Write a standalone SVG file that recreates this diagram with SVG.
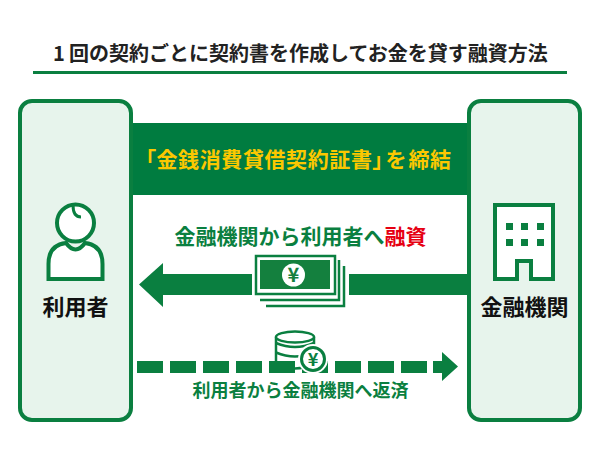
<svg xmlns="http://www.w3.org/2000/svg" width="600" height="450" viewBox="0 0 600 450">
<defs><style>
text{font-family:"Noto Sans CJK JP","Noto Sans",sans-serif;font-weight:700;text-anchor:middle}
.g{fill:#0a7f40}.ln{fill:none;stroke:#0a7f40}
.box{fill:#e7f4ec;stroke:#0a7f40;stroke-width:4}
.t{font-size:21px;fill:#0a7f40}.w{fill:#fff;stroke:#0a7f40;stroke-width:4}
.n{font-size:22px;fill:#111}
.y{font-size:21px;fill:#fcc800;font-feature-settings:"palt";letter-spacing:.6px}
</style></defs>
<rect width="600" height="450" fill="#fff"/>
<g id="title"><text x="59" y="61" font-size="20" fill="#222">1</text><text x="69" y="61" font-size="20" fill="#222" style="text-anchor:start">回の契約ごとに契約書を作成してお金を貸す融資方法</text>
<rect x="33" y="71" width="534" height="3" fill="#0a7f40"/></g>
<g id="contract"><rect x="131" y="123" width="339" height="72" fill="#007c40"/>
<text class="y" x="298.500" y="167">「金銭消費貸借契約証書」<tspan dx="2">を</tspan><tspan dx="2">締結</tspan></text></g>
<g id="user"><rect class="box" x="20" y="101" width="111" height="319" rx="12"/>
<path class="w" d="M48.500 279V264Q48.500 245 66 243Q75.500 256 85 243Q102.500 245 102.500 264V279Z"/>
<circle class="w" cx="75.500" cy="223" r="18.500"/>
<path class="ln" stroke-width="3" d="M73 205Q73 217 81 217"/>
<text class="n" x="75.500" y="315">利用者</text></g>
<g id="bank"><rect class="box" x="469" y="101" width="111" height="319" rx="12"/>
<path class="w" d="M495 279V205H553V279H531V261H517V279Z"/>
<g class="g"><rect x="506" y="223" width="7" height="7"/><rect x="521" y="223" width="7" height="7"/><rect x="537" y="223" width="7" height="7"/><rect x="506" y="239" width="7" height="7"/><rect x="521" y="239" width="7" height="7"/><rect x="537" y="239" width="7" height="7"/></g>
<text class="n" x="524.500" y="315">金融機関</text></g>
<g id="labels"><text class="t" x="300.500" y="244">金融機関から利用者へ<tspan fill="#e60012">融資</tspan></text>
<text x="300.500" y="397" font-size="18" fill="#0a7f40">利用者から金融機関へ返済</text></g>
<g id="cylinder">
<path fill="#fff" stroke="#0a7f40" stroke-width="2.500" d="M276 338V364Q295 373 314 364V338Z"/>
<ellipse cx="295" cy="337" rx="19" ry="5.500" fill="#fff" stroke="#0a7f40" stroke-width="2.500"/>
<path class="ln" stroke-width="2.500" d="M276 343Q295 351 314 343M276 352.500Q295 360.500 314 352.500"/>
</g>
<g id="connectors">
<path class="g" d="M139 284.500L163 263V274H252V295H163V307Z"/>
<rect class="g" x="349" y="274" width="120" height="21"/>
<g class="g"><rect x="137" y="361" width="26" height="12"/><rect x="170" y="361" width="26" height="12"/><rect x="203" y="361" width="26" height="12"/><rect x="236" y="361" width="26" height="12"/><rect x="269" y="361" width="26" height="12"/><rect x="302" y="361" width="26" height="12"/><rect x="335" y="361" width="26" height="12"/><rect x="368" y="361" width="26" height="12"/><rect x="401" y="361" width="26" height="12"/><path d="M433 361H442V352L458 366.500L442 381V373H433Z"/></g>
</g>
<g id="money">
<path class="ln" stroke-width="2.500" d="M339 260V300H260M344 266V306H266"/>
<rect x="256" y="256" width="79" height="38" fill="#fff" stroke="#0a7f40" stroke-width="2.500"/>
<rect x="260" y="260" width="70" height="29" fill="#14803e"/>
<circle cx="293.500" cy="275" r="11.500" fill="#fff"/>
<text x="293.500" y="282" font-size="20" fill="#14803e">¥</text>
</g>
<g id="coin">
<circle cx="313" cy="359" r="15" fill="#fff"/>
<circle cx="313" cy="359" r="11.500" fill="#fff" stroke="#0a7f40" stroke-width="3"/>
<text x="313" y="366" font-size="18" fill="#0a7f40">¥</text>
</g>
</svg>
